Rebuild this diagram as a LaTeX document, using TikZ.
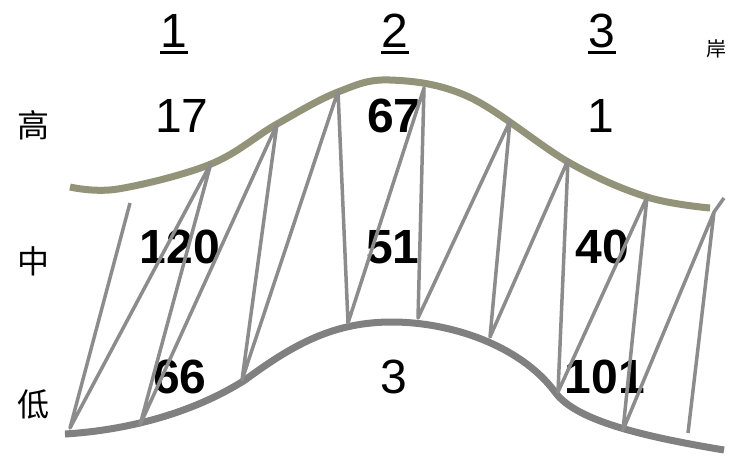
\documentclass[tikz,border=0pt]{standalone}
\usepackage{fontspec}
\setmainfont{Liberation Sans}
\newfontfamily\cjk{Noto Sans CJK SC}
\usetikzlibrary{positioning}
\definecolor{BankOlive}{HTML}{939379}
\definecolor{BedGrey}{HTML}{808080}
\definecolor{ZigGrey}{HTML}{8C8C8C}

\begin{document}
\begin{tikzpicture}[x=1pt, y=-1pt,
    num/.style={font=\fontsize{48}{48}\selectfont, inner sep=0pt, anchor=base},
    bnum/.style={num, font=\fontsize{48}{48}\selectfont\bfseries},
    zone/.style={font=\cjk\fontsize{32}{32}\selectfont, inner sep=0pt},
    uline/.style={line width=3pt},
    bank/.style={line width=7pt, color=BankOlive},
    bed/.style={line width=7pt, color=BedGrey},
    zig/.style={line width=3.5pt, color=ZigGrey, line join=round}
  ]
  \useasboundingbox (0,0) rectangle (735,455);
  % column heads
  \node[num] (h1) at (174,47) {1};
  \node[num] (h2) at (395,47) {2};
  \node[num] (h3) at (602,47) {3};
  \foreach \h in {h1,h2,h3}
    \draw[uline] ([yshift=-5pt]\h.base west) -- ([yshift=-5pt]\h.base east);
  \node[font=\cjk\fontsize{20}{20}\selectfont, inner sep=0pt] (bankside) at (716,49) {岸};
  % row labels
  \node[zone] (high) at (33,125) {高};
  \node[zone] (mid) at (33,261) {中};
  \node[zone] (low) at (33,404) {低};
  % counts
  \node[num] (c11) at (182,132) {17};
  \node[bnum] (c12) at (394,132) {67};
  \node[num] (c13) at (601,132) {1};
  \node[bnum] (c21) at (180,263) {120};
  \node[bnum] (c22) at (393,263) {51};
  \node[bnum] (c23) at (602,263) {40};
  \node[bnum] (c31) at (180,393) {66};
  \node[num] (c32) at (394,393) {3};
  \node[bnum] (c33) at (605,393) {101};
  % banks
  \draw[bank] plot[smooth, tension=0.6] coordinates {(70,187) (118,189) (211,164)
    (277,124) (338,92) (390,80) (469,97) (570,163) (647,197) (710,208)};
  \draw[bed] (65,434) .. controls (115,431) and (185,418) .. (245,380)
    .. controls (295,343) and (335,322) .. (392,322)
    .. controls (450,322) and (520,345) .. (555,392)
    .. controls (575,420) and (640,436) .. (724,450);
  % zigzag points
  \coordinate (F0) at (130,203);
  \coordinate (L0) at (70,428);
  \coordinate (U1) at (211,163);
  \coordinate (L1) at (140,425);
  \coordinate (U2) at (277,124);
  \coordinate (L2) at (242,380);
  \coordinate (U3) at (338,91);
  \coordinate (L3) at (348,323);
  \coordinate (U4) at (424,88);
  \coordinate (L4) at (418,318);
  \coordinate (U5) at (510,121);
  \coordinate (L5) at (490,337);
  \coordinate (U6) at (568,160);
  \coordinate (L6) at (558,392);
  \coordinate (U7) at (647,197);
  \coordinate (L7) at (623,430);
  \coordinate (U8) at (714,212);
  \coordinate (T8) at (724,198);
  \coordinate (F1) at (688,433);
  \draw[zig] (F0) -- (L0) -- (U1) -- (L1) -- (U2) -- (L2) -- (U3) -- (L3)
    -- (U4) -- (L4) -- (U5) -- (L5) -- (U6) -- (L6) -- (U7) -- (L7)
    -- (U8) -- (F1);
  \draw[zig] (U8) -- (T8);
\end{tikzpicture}
\end{document}
